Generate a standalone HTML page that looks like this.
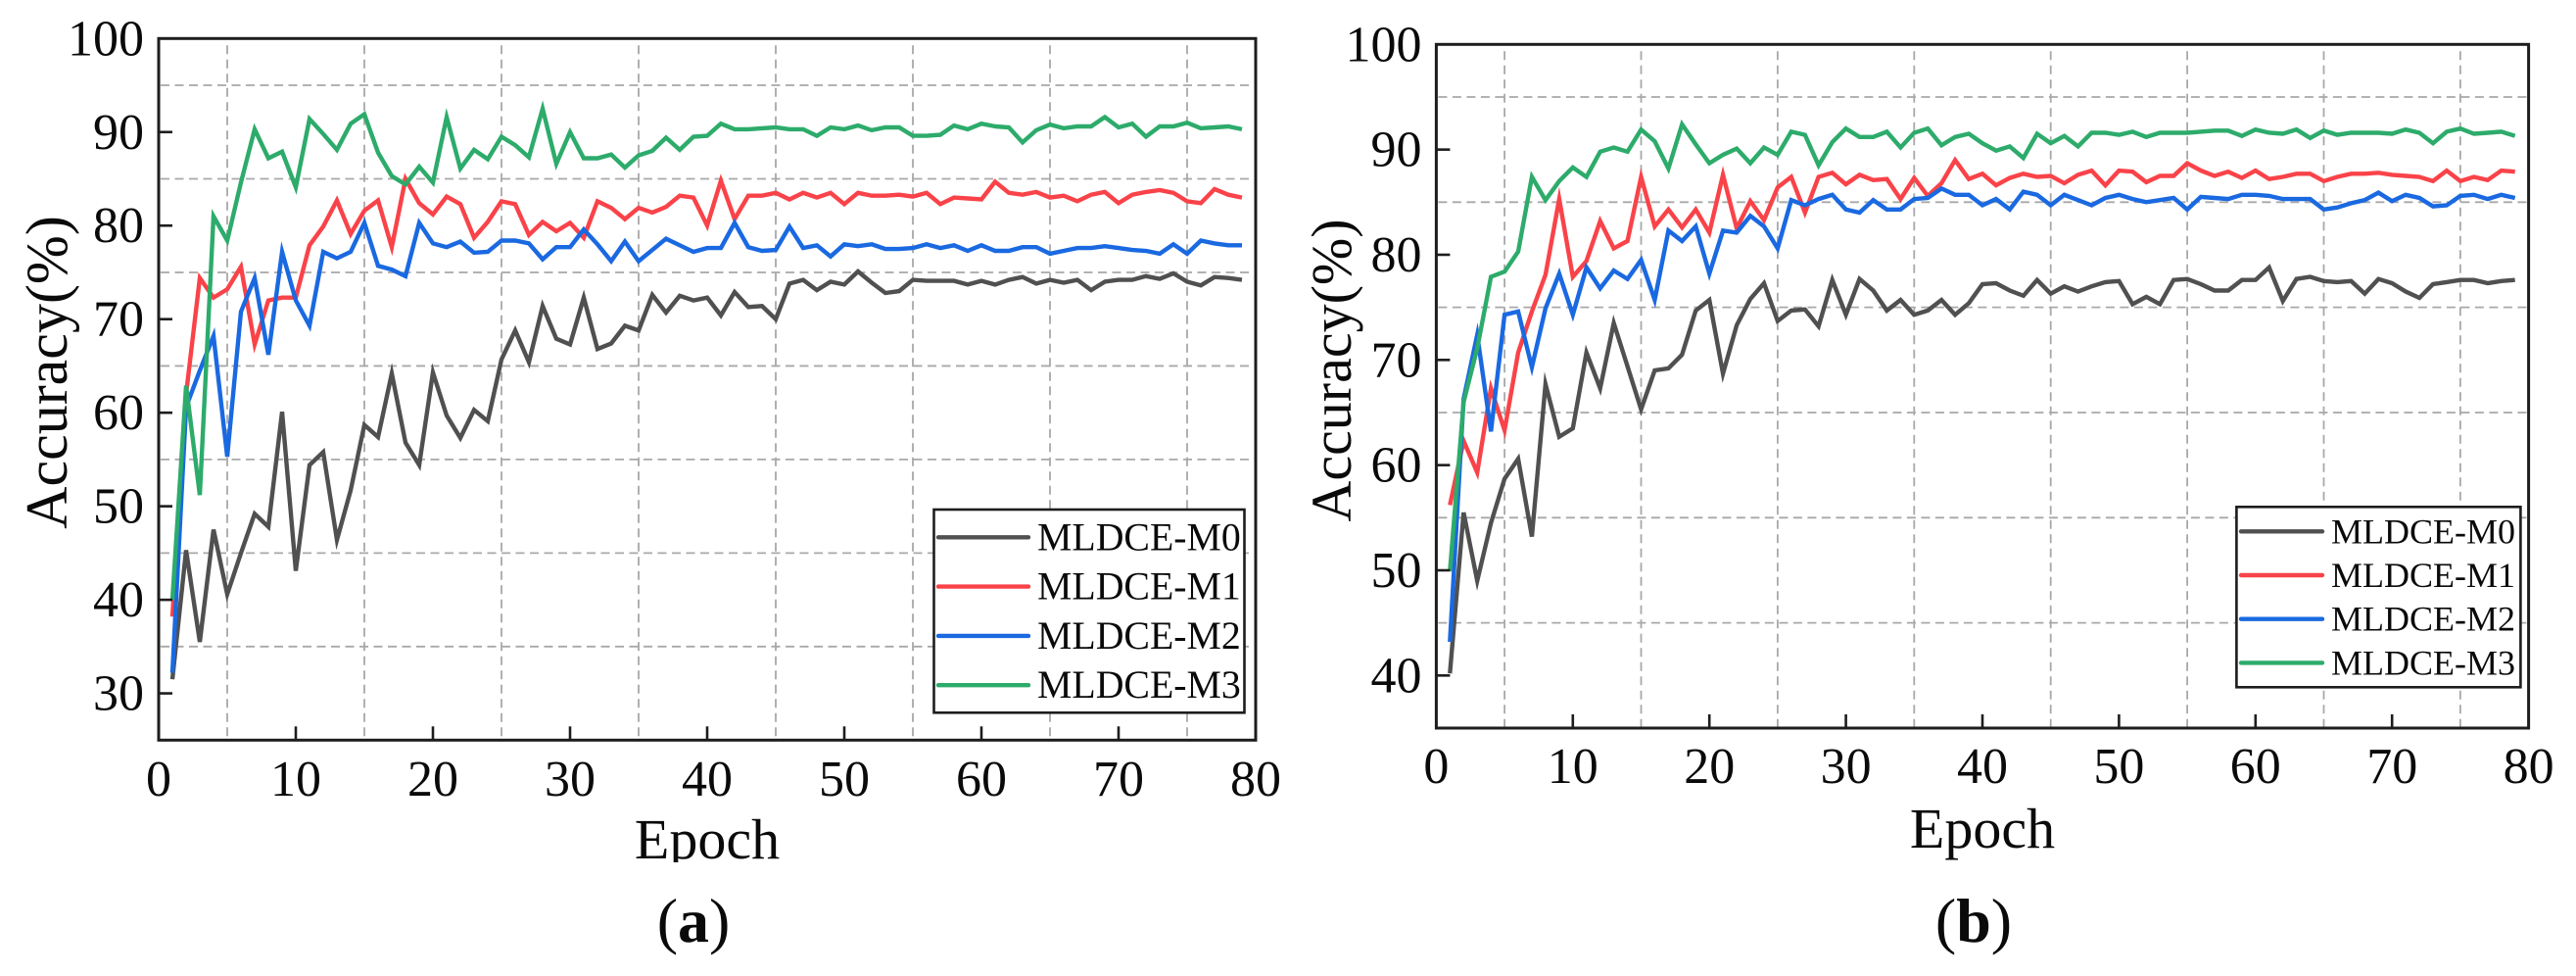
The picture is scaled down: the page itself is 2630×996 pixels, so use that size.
<!DOCTYPE html>
<html lang="en">
<head>
<meta charset="utf-8">
<title>MLDCE accuracy vs epoch</title>
<style>
html,body{margin:0;padding:0;background:#fff;}
#figure{display:block;width:2630px;height:996px;background:#fff;}
text{font-family:"Liberation Serif","Times New Roman",serif;fill:#0a0a0a;}
</style>
</head>
<body>
<svg id="figure" xmlns="http://www.w3.org/2000/svg" width="2630" height="996" viewBox="0 0 2630 996">
  <defs>
    <clipPath id="epoch-clip-a"><rect x="600" y="820" width="260" height="60"></rect></clipPath>
  </defs>
  <g id="panel-a"></g>
  <g id="panel-b"></g>
  <text x="708" y="961" font-size="64" text-anchor="middle">(<tspan font-weight="bold">a</tspan>)</text>
  <text x="2015" y="961" font-size="64" text-anchor="middle">(<tspan font-weight="bold">b</tspan>)</text>
</svg>
<script>
const seriesNames = ["MLDCE-M0", "MLDCE-M1", "MLDCE-M2", "MLDCE-M3"];
const xTickLabels = [0, 10, 20, 30, 40, 50, 60, 70, 80];
const xGridValues = [5, 15, 25, 35, 45, 55, 65, 75];
const yTickLabelsA = [30, 40, 50, 60, 70, 80, 90, 100];
const yGridValuesA = [35, 45, 55, 65, 75, 85, 95];
const yTickLabelsB = [40, 50, 60, 70, 80, 90, 100];
const yGridValuesB = [45, 55, 65, 75, 85, 95];

const panelA_M0 = [31.5,45.3,35.5,47.5,40.6,45,49.2,47.8,60.1,43.1,54.4,55.8,46.4,51.7,58.7,57.4,64.2,56.8,54.4,64.3,59.7,57.3,60.3,59.1,65.7,68.8,65.4,71.4,67.9,67.3,72.3,66.8,67.4,69.3,68.8,72.6,70.7,72.5,72,72.3,70.4,72.9,71.3,71.4,70,73.8,74.2,73.1,74,73.7,75.1,73.9,72.8,73,74.2,74.1,74.1,74.1,73.7,74.1,73.7,74.2,74.5,73.8,74.2,73.9,74.2,73.1,74,74.2,74.2,74.6,74.3,74.9,74,73.6,74.5,74.4,74.2];
const panelA_M1 = [38.2,62,74.4,72.3,73.2,75.6,67.3,72,72.3,72.3,77.9,79.9,82.7,79.1,81.6,82.7,77.7,85,82.4,81.2,83.1,82.3,78.7,80.4,82.6,82.3,79,80.4,79.4,80.3,78.7,82.6,81.9,80.7,81.9,81.4,82,83.2,83,80,84.8,80.7,83.2,83.2,83.5,82.8,83.5,83,83.5,82.3,83.5,83.2,83.2,83.3,83.1,83.5,82.3,83,82.9,82.8,84.7,83.5,83.3,83.6,83,83.2,82.6,83.3,83.6,82.4,83.3,83.6,83.8,83.5,82.6,82.4,83.9,83.3,83];
const panelA_M2 = [32.2,60.6,64.5,68.2,55.3,70.8,74.4,66.2,77.2,72,69.3,77.2,76.5,77.2,80.3,75.7,75.3,74.6,80.3,78.1,77.7,78.3,77.1,77.2,78.4,78.4,78.1,76.4,77.7,77.7,79.6,78,76.2,78.3,76.2,77.4,78.6,77.9,77.2,77.6,77.6,80.3,77.7,77.3,77.4,79.9,77.6,77.9,76.7,78,77.8,78,77.5,77.5,77.6,78,77.6,77.9,77.3,77.9,77.3,77.3,77.7,77.7,77,77.3,77.6,77.6,77.8,77.6,77.4,77.3,77,78,77,78.4,78.1,77.9,77.9];
const panelA_M3 = [40,62.9,51.2,81,78.4,84.6,90.3,87.2,87.9,84.1,91.4,89.8,88.1,90.9,91.9,87.8,85.3,84.4,86.3,84.6,91.6,86.1,88.1,87.1,89.5,88.6,87.3,92.5,86.6,90,87.2,87.2,87.6,86.2,87.5,88,89.4,88.1,89.5,89.6,90.9,90.3,90.3,90.4,90.5,90.3,90.3,89.6,90.5,90.3,90.7,90.2,90.5,90.5,89.6,89.6,89.7,90.7,90.3,90.9,90.6,90.5,88.9,90.2,90.8,90.4,90.6,90.6,91.6,90.5,90.9,89.5,90.6,90.6,91,90.4,90.5,90.6,90.3];

const panelB_M0 = [40.2,55.5,49,54.5,58.7,60.6,53.2,67.7,62.7,63.5,70.7,67.3,73.5,69.4,65.3,69,69.2,70.5,74.7,75.7,68.7,73.3,75.8,77.3,73.7,74.7,74.8,73.2,77.6,74.3,77.7,76.6,74.7,75.7,74.3,74.7,75.7,74.3,75.4,77.2,77.3,76.6,76.1,77.6,76.3,77,76.5,77,77.4,77.5,75.3,76,75.3,77.6,77.7,77.2,76.6,76.6,77.6,77.6,78.8,75.6,77.7,77.9,77.5,77.4,77.5,76.3,77.7,77.3,76.5,75.9,77.2,77.4,77.6,77.6,77.3,77.5,77.6];
const panelB_M1 = [56.2,62.3,59.3,67.3,63.3,70.7,74.6,78.1,85.3,77.9,79.4,83.2,80.6,81.3,87.4,82.7,84.3,82.6,84.3,82.1,87.6,82.5,85.1,83.3,86.4,87.4,84,87.4,87.8,86.7,87.6,87.1,87.2,85.3,87.3,85.6,86.8,89,87.2,87.7,86.6,87.3,87.7,87.4,87.5,86.8,87.6,88,86.6,88,87.9,86.9,87.5,87.5,88.7,88,87.5,87.9,87.3,88,87.2,87.4,87.7,87.7,87,87.4,87.7,87.7,87.8,87.6,87.5,87.4,87,88,87,87.4,87.1,88,87.9];
const panelB_M2 = [43.2,66.3,72.4,63.2,74.3,74.6,69.3,74.9,78.2,74.3,78.8,76.8,78.5,77.7,79.5,75.7,82.3,81.3,82.7,78.2,82.3,82.1,83.7,82.7,80.6,85.2,84.7,85.3,85.7,84.3,84,85.2,84.3,84.3,85.3,85.4,86.3,85.7,85.7,84.7,85.3,84.3,86,85.7,84.7,85.7,85.2,84.7,85.4,85.7,85.3,85,85.2,85.4,84.3,85.5,85.4,85.3,85.7,85.7,85.6,85.3,85.3,85.3,84.3,84.5,84.9,85.2,85.9,85.1,85.7,85.4,84.6,84.7,85.6,85.7,85.3,85.7,85.4];
const panelB_M3 = [49.9,66,71.1,77.9,78.4,80.3,87.4,85.2,87,88.3,87.4,89.8,90.2,89.8,91.9,90.8,88.2,92.4,90.5,88.7,89.5,90.1,88.7,90.2,89.5,91.7,91.4,88.5,90.7,92,91.2,91.2,91.7,90.2,91.6,92,90.4,91.2,91.5,90.6,89.9,90.3,89.2,91.5,90.6,91.3,90.3,91.6,91.6,91.4,91.7,91.2,91.6,91.6,91.6,91.7,91.8,91.8,91.3,91.9,91.6,91.5,91.9,91.1,91.8,91.4,91.6,91.6,91.6,91.5,91.9,91.6,90.6,91.7,92,91.5,91.6,91.7,91.3];

const seriesColors = ["#505050", "#f94349", "#1a69e1", "#2dab6b"];
const SVG_NS = "http://www.w3.org/2000/svg";

function make(parent, tag, attrs) {
  const el = document.createElementNS(SVG_NS, tag);
  for (const k in attrs) { el.setAttribute(k, attrs[k]); }
  parent.appendChild(el);
  return el;
}

function drawPanel(cfg) {
  const root = document.getElementById(cfg.id);
  const xScale = v => cfg.left + (v - cfg.xMin) * (cfg.right - cfg.left) / (cfg.xMax - cfg.xMin);
  const yScale = v => cfg.bottom - (v - cfg.yMin) * (cfg.bottom - cfg.top) / (cfg.yMax - cfg.yMin);
  const ink = "#1d1d1d";

  cfg.xGrid.forEach(v => {
    const g = make(root, "line", {x1: xScale(v), x2: xScale(v), y1: cfg.top + 7, y2: cfg.bottom, stroke: "#a8a8a8", "stroke-width": 1.8, "stroke-dasharray": "9 5.5"});
    
    
  });
  cfg.yGrid.forEach(v => {
    const g = make(root, "line", {x1: cfg.left + 2, x2: cfg.right - 2, y1: yScale(v), y2: yScale(v), stroke: "#a8a8a8", "stroke-width": 1.8, "stroke-dasharray": "9 5.5"});
    
    
  });

  cfg.series.forEach((values, i) => {
    const pts = values.map((v, idx) => xScale(idx + 1).toFixed(1) + "," + yScale(v).toFixed(1)).join(" ");
    const line = make(root, "polyline", {points: pts, fill: "none", stroke: seriesColors[i], "stroke-width": 4.4, "stroke-linejoin": "miter", "stroke-miterlimit": 6});
    
    
  });

  const frame = make(root, "rect", {x: cfg.left, y: cfg.top, width: cfg.right - cfg.left, height: cfg.bottom - cfg.top, fill: "none", stroke: ink, "stroke-width": 3});
  
  

  cfg.xTicks.forEach(v => {
    if (v > cfg.xMin && v < cfg.xMax) {
      const t = make(root, "line", {x1: xScale(v), x2: xScale(v), y1: cfg.bottom, y2: cfg.bottom - 14, stroke: ink, "stroke-width": 2.6});
      
      
    }
    const lab = make(root, "text", {x: xScale(v), y: cfg.xLabelY, "font-size": 52, "text-anchor": "middle"});
    lab.textContent = v;
    
    
  });

  cfg.yTicks.forEach(v => {
    if (v < cfg.yMax) {
      const t = make(root, "line", {x1: cfg.left, x2: cfg.left + 14, y1: yScale(v), y2: yScale(v), stroke: ink, "stroke-width": 2.6});
      
      
    }
    const lab = make(root, "text", {x: cfg.yLabelX, y: yScale(v) + 17, "font-size": 52, "text-anchor": "end"});
    lab.textContent = v;
    
    
  });

  const yTitle = make(root, "text", {x: 0, y: 0, "font-size": cfg.yTitleSize, "text-anchor": "middle", transform: "translate(" + cfg.yTitleX + " " + cfg.yTitleY + ") rotate(-90)"});
  yTitle.textContent = "Accuracy(%)";
  
  

  const xTitleAttrs = {x: cfg.xTitleX, y: cfg.xTitleY, "font-size": 58, "text-anchor": "middle"};
  if (cfg.xTitleClip) { xTitleAttrs["clip-path"] = "url(#" + cfg.xTitleClip + ")"; }
  const xTitle = make(root, "text", xTitleAttrs);
  xTitle.textContent = "Epoch";
  
  

  const L = cfg.legend;
  const legend = make(root, "g", {});
  
  
  const box = make(legend, "rect", {x: L.x, y: L.y, width: L.w, height: L.h, fill: "#fff", stroke: ink, "stroke-width": 2.6});
  
  
  seriesNames.forEach((name, i) => {
    const rowY = L.firstRow + i * L.rowGap;
    const swatch = make(legend, "line", {x1: L.lineX1, x2: L.lineX2, y1: rowY, y2: rowY, stroke: seriesColors[i], "stroke-width": 4.4, "stroke-linecap": "round"});
    
    
    const txt = make(legend, "text", {x: L.textX, y: rowY + L.baseline, "font-size": L.fontSize});
    txt.textContent = name;
    
    
  });
}

drawPanel({
  id: "panel-a", left: 162, right: 1282, top: 39.3, bottom: 755.3,
  xMin: 0, xMax: 80, yMin: 25, yMax: 100,
  xTicks: xTickLabels, xGrid: xGridValues, yTicks: yTickLabelsA, yGrid: yGridValuesA,
  series: [panelA_M0, panelA_M1, panelA_M2, panelA_M3],
  xLabelY: 812, yLabelX: 147,
  yTitleX: 68, yTitleY: 380, yTitleSize: 60,
  xTitleX: 722, xTitleY: 876, xTitleClip: "epoch-clip-a",
  legend: {x: 953.5, y: 520, w: 317, h: 207.3, firstRow: 548.3, rowGap: 50.3, lineX1: 958, lineX2: 1050, textX: 1059, fontSize: 39.8, baseline: 13}
});

drawPanel({
  id: "panel-b", left: 1466.4, right: 2581.6, top: 45.3, bottom: 743,
  xMin: 0, xMax: 80, yMin: 35, yMax: 100,
  xTicks: xTickLabels, xGrid: xGridValues, yTicks: yTickLabelsB, yGrid: yGridValuesB,
  series: [panelB_M0, panelB_M1, panelB_M2, panelB_M3],
  xLabelY: 799, yLabelX: 1451.5,
  yTitleX: 1379, yTitleY: 378, yTitleSize: 58,
  xTitleX: 2024, xTitleY: 865, xTitleClip: null,
  legend: {x: 2283.4, y: 517.3, w: 290, h: 184, firstRow: 542.3, rowGap: 44.7, lineX1: 2288, lineX2: 2371, textX: 2380, fontSize: 36, baseline: 12}
});
</script>
</body>
</html>
